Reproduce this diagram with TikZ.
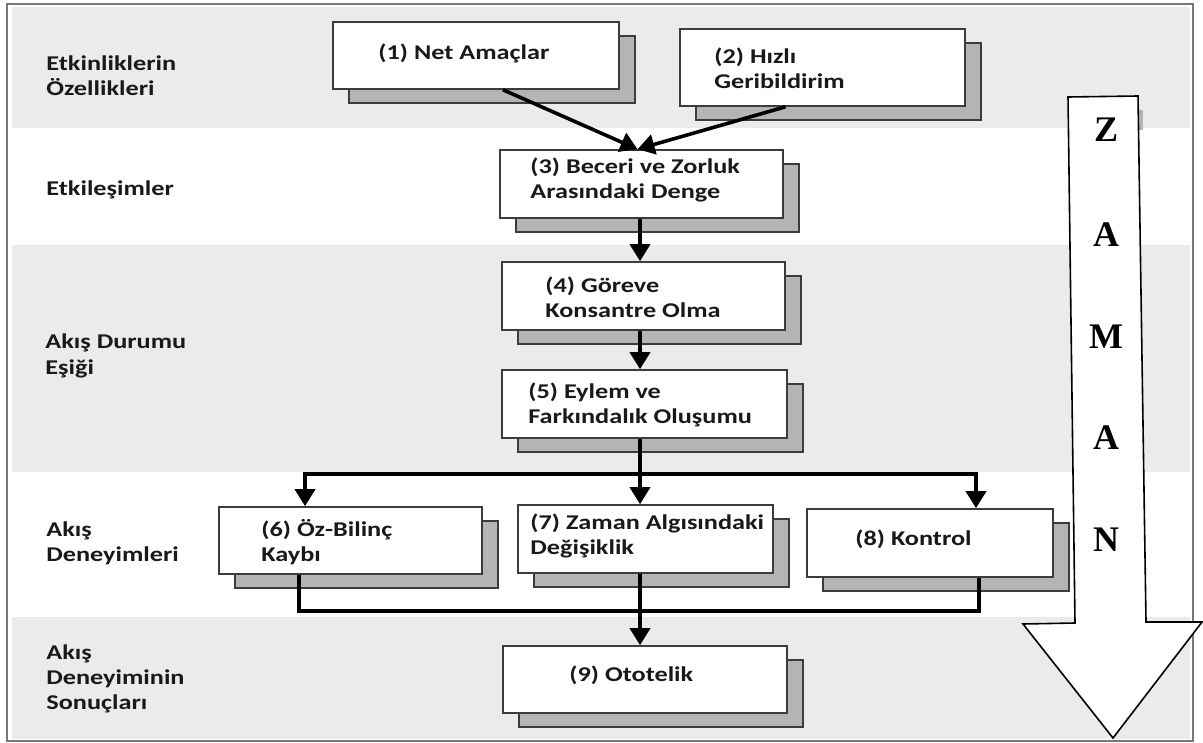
\documentclass[tikz,border=0pt]{standalone}
\usepackage{fontspec}
\newfontfamily\calfont{Carlito}[FakeStretch=1.25]
\newfontfamily\zamanfont{Liberation Serif}
\usetikzlibrary{arrows.meta, calc, fit, shadows}
\definecolor{bandgray}{RGB}{235,235,235}
\definecolor{shadowgray}{RGB}{180,180,180}
\definecolor{edgegray}{RGB}{60,60,60}
\definecolor{framegray}{RGB}{120,120,120}
\definecolor{inkdark}{RGB}{25,25,25}

\tikzset{
  flowbox/.style={draw=edgegray, line width=0.8pt, fill=white, inner sep=0pt,
    copy shadow={shadow xshift=8pt, shadow yshift=-7pt, fill=shadowgray, draw=edgegray, line width=0.8pt}},
  boxtext/.style={font=\calfont\bfseries\fontsize{10.5}{12.6}\selectfont, text=inkdark,
    align=left, anchor=west, inner sep=0pt},
  rowlabel/.style={boxtext},
  flowline/.style={line width=1.8pt, black},
  flowarrow/.style={flowline, -{Triangle[width=10pt, length=8.5pt]}},
  zletter/.style={font=\zamanfont\bfseries\fontsize{18}{20}\selectfont, inner sep=0pt},
}

\begin{document}
\begin{tikzpicture}[x=0.5pt, y=-0.5pt]
  \useasboundingbox (0,0) rectangle (1203,743);
  % bands
  \fill[bandgray] (12,7) rectangle (1190,128);
  \fill[bandgray] (12,245) rectangle (1190,472);
  \fill[bandgray] (12,617) rectangle (1190,739);
  \draw[framegray, line width=1pt] (7,4) rectangle (1193,741);

  % row labels
  \node[rowlabel] (lblfeat) at (46,76) {Etkinliklerin\\Özellikleri};
  \node[rowlabel] (lblinter) at (46,190) {Etkileşimler};
  \node[rowlabel] (lblthresh) at (45,356) {Akış Durumu\\Eşiği};
  \node[rowlabel] (lblexp) at (46,543) {Akış\\Deneyimleri};
  \node[rowlabel] (lblresult) at (46,679) {Akış\\Deneyiminin\\Sonuçları};

  % boxes
  \node[flowbox, fit={(333,22) (619,89)}] (goals) {};
  \node[flowbox, fit={(680,29) (965,106)}] (feedback) {};
  \node[flowbox, fit={(500,150) (783,218)}] (balance) {};
  \node[flowbox, fit={(502,262) (785,330)}] (focus) {};
  \node[flowbox, fit={(502,370) (787,438)}] (merging) {};
  \node[flowbox, fit={(219,507) (482,574)}] (selfloss) {};
  \node[flowbox, fit={(518,505) (773,573)}] (timeshift) {};
  \node[flowbox, fit={(807,509) (1053,577)}] (control) {};
  \node[flowbox, fit={(503,646) (787,713)}] (autotelic) {};

  \node[boxtext] (goalstxt) at (378,53) {(1) Net Amaçlar};
  \node[boxtext] (feedbacktxt) at (714,68) {(2) Hızlı\\Geribildirim};
  \node[boxtext] (balancetxt) at (530,180) {(3) Beceri ve Zorluk\\Arasındaki Denge};
  \node[boxtext] (focustxt) at (545,297) {(4) Göreve\\Konsantre Olma};
  \node[boxtext] (mergingtxt) at (528,405) {(5) Eylem ve\\Farkındalık Oluşumu};
  \node[boxtext] (selflosstxt) at (261,542) {(6) Öz-Bilinç\\Kaybı};
  \node[boxtext] (timeshifttxt) at (530,536) {(7) Zaman Algısındaki\\Değişiklik};
  \node[boxtext] (controltxt) at (855,539) {(8) Kontrol};
  \node[boxtext] (autotelictxt) at (569,675) {(9) Ototelik};

  % connectors
  \coordinate (split) at (640,474);
  \coordinate (merge) at (640,611);
  \draw[flowarrow] ($(goals.south)+(27,0)$) -- ($(balance.north)+(-4,0)$);
  \draw[flowarrow] ($(feedback.south)+(-37,0)$) -- ($(balance.north)+(-4,0)$);
  \draw[flowarrow] (balance.south -| split) -- (focus.north -| split);
  \draw[flowarrow] (focus.south -| split) -- (merging.north -| split);
  \draw[flowline] (merging.south -| split) -- (split);
  \draw[flowarrow] (split) -- (timeshift.north -| split);
  \draw[flowarrow] (split) -| ($(selfloss.north)+(-45.5,0)$);
  \draw[flowarrow] (split) -| ($(control.north)+(46,0)$);
  \draw[flowline] ($(selfloss.south)+(-51.5,0)$) |- (merge) -| ($(control.south)+(49,0)$);
  \draw[flowarrow] (timeshift.south -| merge) -- (autotelic.north -| merge);

  % time arrow
  \fill[shadowgray] (1138,110) rectangle (1143,130);
  \draw[fill=white, line width=0.8pt] (1068,97) -- (1138,96) -- (1146,622) -- (1202,622)
    -- (1113,738) -- (1023,624) -- (1075,623) -- cycle;
  \foreach \ch/\yy [count=\i] in {Z/130, A/235, M/337, A/438, N/540}
    \node[zletter] (zaman\i) at (1106,\yy) {\ch};
\end{tikzpicture}
\end{document}
